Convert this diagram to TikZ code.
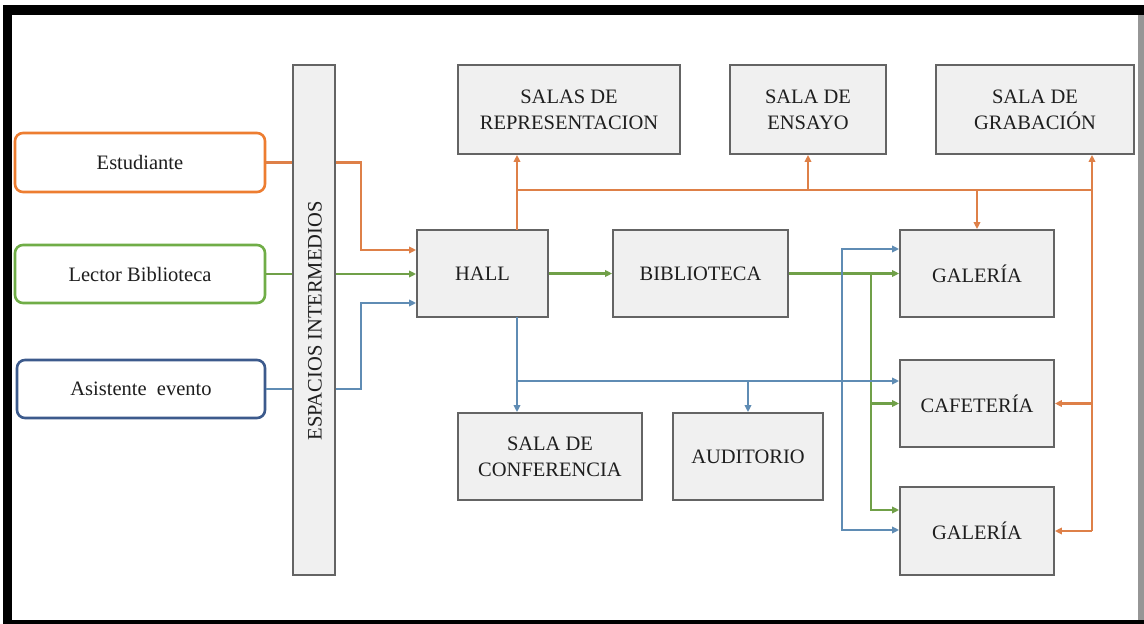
\documentclass[tikz,border=0pt]{standalone}
\usepackage{fontspec}
\setmainfont{Liberation Serif}
\usetikzlibrary{arrows.meta,calc}
\definecolor{olin}{RGB}{222,128,72}
\definecolor{glin}{RGB}{112,160,72}
\definecolor{blin}{RGB}{95,140,180}
\definecolor{oedge}{RGB}{237,125,49}
\definecolor{gedge}{RGB}{112,173,71}
\definecolor{bedge}{RGB}{60,90,140}
\definecolor{boxfill}{RGB}{240,240,240}
\definecolor{boxedge}{RGB}{100,100,100}
\definecolor{txt}{RGB}{30,30,30}
\definecolor{rightbar}{RGB}{150,150,150}
\tikzset{
  actor/.style={draw, line width=2.6pt, rounded corners=8pt, fill=white, text=txt,
    inner sep=0pt, font=\fontsize{20.5}{24}\selectfont},
  room/.style={draw=boxedge, line width=1.8pt, fill=boxfill, text=txt, inner sep=0pt,
    align=center, font=\fontsize{20.5}{26}\selectfont},
  ln/.style={line width=2.5pt},
  ol/.style={ln, draw=olin},
  gl/.style={ln, draw=glin},
  bl/.style={ln, draw=blin},
  arr/.style={-{Triangle[length=7pt,width=6.5pt]}},
  darr/.style={{Triangle[length=7pt,width=6.5pt]}-{Triangle[length=7pt,width=6.5pt]}},
}
\begin{document}
\begin{tikzpicture}[x=1pt,y=-1pt]
\useasboundingbox (0,0) rectangle (1144,624);
% frame
\fill[white] (0,0) rectangle (1144,624);
\fill[black] (3,5) rectangle (1144,15);
\fill[black] (3,5) rectangle (12,624);
\fill[black] (3,620) rectangle (1144,624);
\fill[rightbar] (1138,15) rectangle (1144,620);

% actors
\node[actor, draw=oedge, minimum width=250pt, minimum height=59pt] (est) at (140,162.5) {Estudiante};
\node[actor, draw=gedge, minimum width=250pt, minimum height=58pt] (lec) at (140,274) {Lector Biblioteca};
\node[actor, draw=bedge, minimum width=248pt, minimum height=58pt] (asi) at (141,389) {Asistente\ \ evento};

% intermediate bar
\node[room, minimum width=42pt, minimum height=510pt] (bar) at (314,320) {};
\node[text=txt, rotate=90, font=\fontsize{20.5}{24}\selectfont, inner sep=0pt] (barlbl) at (315,321) {ESPACIOS INTERMEDIOS};

% rooms
\node[room, minimum width=131pt, minimum height=87pt] (hall) at (482.5,273.5) {HALL};
\node[room, minimum width=175pt, minimum height=87pt] (bib) at (700.5,273.5) {BIBLIOTECA};
\node[room, minimum width=222pt, minimum height=89pt] (rep) at (569,109.5) {SALAS DE\\REPRESENTACION};
\node[room, minimum width=156pt, minimum height=89pt] (ens) at (808,109.5) {SALA DE\\ENSAYO};
\node[room, minimum width=198pt, minimum height=89pt] (gra) at (1035,109.5) {SALA DE\\GRABACIÓN};
\node[room, minimum width=154pt, minimum height=87pt] (gal1) at (977,273.5) {GALERÍA};
\node[room, minimum width=154pt, minimum height=87pt] (caf) at (977,403.5) {CAFETERÍA};
\node[room, minimum width=154pt, minimum height=88pt] (gal2) at (977,531) {GALERÍA};
\node[room, minimum width=184pt, minimum height=87pt] (conf) at (550,456.5) {SALA DE\\CONFERENCIA};
\node[room, minimum width=150pt, minimum height=87pt] (aud) at (748,456.5) {AUDITORIO};

% junction coordinates
\coordinate (ot) at (517,230);
\coordinate (oh) at (517,190);
\coordinate (oc) at (1092,190);
\coordinate (bt) at (517,317);
\coordinate (bh) at (517,381);
\coordinate (gx) at (871,273.5);

% orange
\draw[ol] (est.east) -- (bar.west |- est.east);
\draw[ol,arr] (bar.east |- est.east) -- ++(25,0) |- ([yshift=23.5pt]hall.west);
\draw[ol,arr] (ot) -- (ot |- rep.south);
\draw[ol] (oh) -- (oc);
\draw[ol,arr] (ens.south |- oh) -- (ens.south);
\draw[ol,arr] (gal1.north |- oh) -- (gal1.north);
\draw[ol,arr] (oc |- gal2.east) -- (oc |- gra.south);
\draw[ol,arr] (oc |- caf.east) -- (caf.east);
\draw[ol,arr] (oc |- gal2.east) -- (gal2.east);

% green
\draw[gl] (lec.east) -- (bar.west |- lec.east);
\draw[gl,arr] (bar.east |- lec.east) -- (hall.west |- lec.east);
\draw[gl,arr] (hall.east) -- (bib.west);
\draw[gl,arr] (bib.east) -- (gal1.west);
\draw[gl,arr] (gx) |- ([yshift=21pt]gal2.west);
\draw[gl,arr] (gx |- caf.west) -- (caf.west);

% blue
\draw[bl] (asi.east) -- (bar.west |- asi.east);
\draw[bl,arr] (bar.east |- asi.east) -- ++(25,0) |- ([yshift=-29.5pt]hall.west);
\draw[bl,arr] (bt) -- (bt |- conf.north);
\draw[bl,arr] (bh) -- ([yshift=22.5pt]caf.west);
\draw[bl,arr] (aud.north |- bh) -- (aud.north);
\draw[bl,darr] ([yshift=24.5pt]gal1.west) -- ++(-57,0) |- ([yshift=1pt]gal2.west);
\end{tikzpicture}
\end{document}
